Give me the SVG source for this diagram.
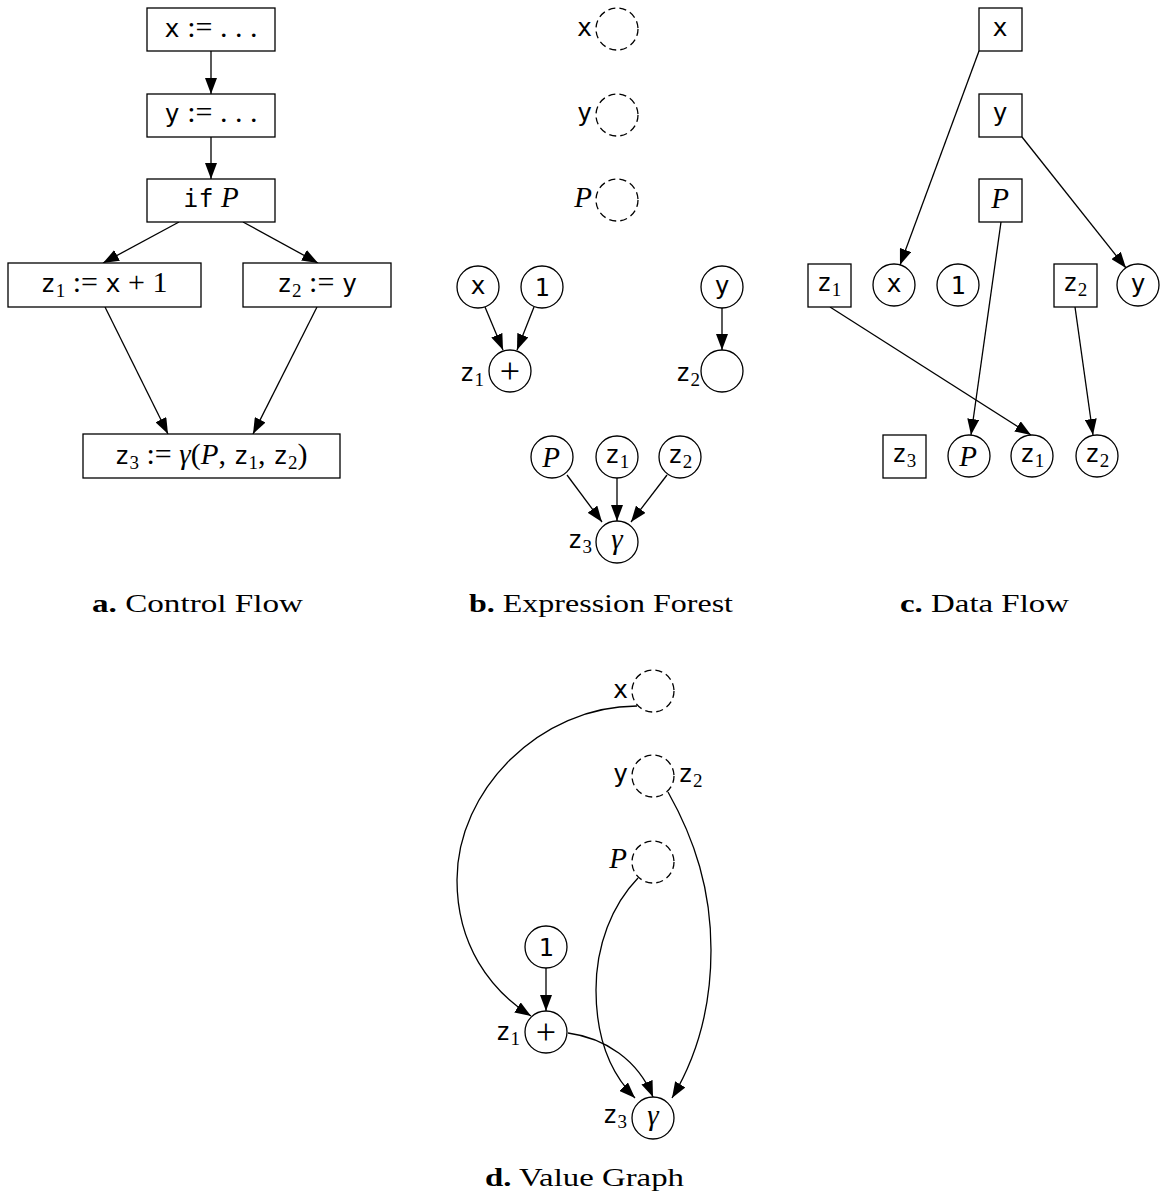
<svg xmlns="http://www.w3.org/2000/svg" width="1162" height="1196" viewBox="0 0 1162 1196">
<style>
.tt{font-family:"DejaVu Sans Mono","Liberation Mono",monospace;font-size:25px}
.rm{font-family:"Liberation Serif",serif;font-size:30px}
.pl{font-family:"Liberation Serif",serif;font-size:36px}
.it{font-family:"Liberation Serif",serif;font-style:italic;font-size:29px}
.sub{font-family:"Liberation Serif",serif;font-size:19px}
.box{fill:#fff;stroke:#000;stroke-width:1.3}
.dash{fill:#fff;stroke:#000;stroke-width:1.3;stroke-dasharray:7 4.2}
.edge{fill:none;stroke:#000;stroke-width:1.3;marker-end:url(#ah)}
.cap{font-family:"Liberation Serif",serif;font-size:26px}
text{fill:#000}
</style>
<defs>
<marker id="ah" viewBox="0 0 16 12" refX="16" refY="6" markerWidth="16" markerHeight="12" orient="auto" markerUnits="userSpaceOnUse"><path d="M0,0 L16,6 L0,12 z" fill="#000"/></marker>
</defs>

<g id="connectors">
<!-- panel a -->
<line class="edge" x1="211" y1="51" x2="211" y2="94"/>
<line class="edge" x1="211" y1="137" x2="211" y2="179"/>
<line class="edge" x1="179" y1="222" x2="103" y2="263"/>
<line class="edge" x1="243" y1="222" x2="318" y2="263"/>
<line class="edge" x1="105" y1="307" x2="168" y2="434"/>
<line class="edge" x1="317" y1="307" x2="253" y2="434"/>
<!-- panel b -->
<line class="edge" x1="485" y1="307" x2="503" y2="350"/>
<line class="edge" x1="534" y1="307" x2="517" y2="350"/>
<line class="edge" x1="722" y1="308" x2="722" y2="350"/>
<line class="edge" x1="567" y1="475" x2="602" y2="522"/>
<line class="edge" x1="617" y1="478" x2="617" y2="521"/>
<line class="edge" x1="667" y1="475" x2="631" y2="522"/>
<!-- panel c -->
<line class="edge" x1="979" y1="51" x2="900" y2="265"/>
<line class="edge" x1="1022" y1="137" x2="1126" y2="268"/>
<line class="edge" x1="1001" y1="222" x2="971" y2="435"/>
<line class="edge" x1="830" y1="307" x2="1031" y2="435"/>
<line class="edge" x1="1075" y1="307" x2="1093" y2="435"/>
<!-- panel d -->
<path class="edge" d="M637,706 C540,706 457,790 457,880 C457,945 490,990 531,1016"/>
<line class="edge" x1="546" y1="968" x2="546" y2="1011"/>
<path class="edge" d="M638,878 C612,905 596,945 596,990 C596,1040 612,1075 635,1098"/>
<path class="edge" d="M668,792 C695,840 711,890 711,950 C711,1010 695,1060 672,1098"/>
<path class="edge" d="M568,1033 C605,1038 638,1060 653,1097"/>
</g>

<!-- Panel a: control flow -->
<g id="a_x">
<rect class="box" x="147" y="8" width="128" height="43"/>
<text x="211" y="37" text-anchor="middle"><tspan class="tt">x</tspan><tspan class="rm"> := . . .</tspan></text>
</g>
<g id="a_y">
<rect class="box" x="147" y="94" width="128" height="43"/>
<text x="211" y="122" text-anchor="middle"><tspan class="tt">y</tspan><tspan class="rm"> := . . .</tspan></text>
</g>
<g id="a_if">
<rect class="box" x="147" y="179" width="128" height="43"/>
<text x="211" y="207" text-anchor="middle"><tspan class="tt">if</tspan><tspan class="rm"> </tspan><tspan class="it">P</tspan></text>
</g>
<g id="a_z1">
<rect class="box" x="8" y="263" width="193" height="44"/>
<text x="104" y="292" text-anchor="middle"><tspan class="tt">z</tspan><tspan class="sub" dy="5">1</tspan><tspan class="rm" dy="-5"> := </tspan><tspan class="tt">x</tspan><tspan class="rm"> + 1</tspan></text>
</g>
<g id="a_z2">
<rect class="box" x="243" y="263" width="148" height="44"/>
<text x="317" y="292" text-anchor="middle"><tspan class="tt">z</tspan><tspan class="sub" dy="5">2</tspan><tspan class="rm" dy="-5"> := </tspan><tspan class="tt">y</tspan></text>
</g>
<g id="a_z3">
<rect class="box" x="83" y="434" width="257" height="44"/>
<text x="211" y="464" text-anchor="middle"><tspan class="tt">z</tspan><tspan class="sub" dy="5">3</tspan><tspan class="rm" dy="-5"> := </tspan><tspan class="it">γ</tspan><tspan class="rm">(</tspan><tspan class="it">P</tspan><tspan class="rm">, </tspan><tspan class="tt">z</tspan><tspan class="sub" dy="5">1</tspan><tspan class="rm" dy="-5">, </tspan><tspan class="tt">z</tspan><tspan class="sub" dy="5">2</tspan><tspan class="rm" dy="-5">)</tspan></text>
</g>

<!-- Panel b: expression forest -->
<g id="b_x">
<circle class="dash" cx="617" cy="29" r="21"/>
<text class="tt" x="592" y="36" text-anchor="end">x</text>
</g>
<g id="b_y">
<circle class="dash" cx="617" cy="115" r="21"/>
<text class="tt" x="592" y="121" text-anchor="end">y</text>
</g>
<g id="b_P">
<circle class="dash" cx="617" cy="200" r="21"/>
<text class="it" x="592" y="207" text-anchor="end">P</text>
</g>
<g id="b_xleaf">
<circle class="box" cx="478" cy="287" r="21"/>
<text class="tt" x="478" y="294" text-anchor="middle">x</text>
</g>
<g id="b_one">
<circle class="box" cx="542" cy="287" r="21"/>
<text class="tt" x="542" y="296" text-anchor="middle">1</text>
</g>
<g id="b_plus">
<circle class="box" cx="510" cy="371" r="21"/>
<text class="pl" x="510" y="383" text-anchor="middle">+</text>
<text x="484" y="381" text-anchor="end"><tspan class="tt">z</tspan><tspan class="sub" dy="5">1</tspan></text>
</g>
<g id="b_yleaf">
<circle class="box" cx="722" cy="287" r="21"/>
<text class="tt" x="722" y="294" text-anchor="middle">y</text>
</g>
<g id="b_z2">
<circle class="box" cx="722" cy="371" r="21"/>
<text x="700" y="381" text-anchor="end"><tspan class="tt">z</tspan><tspan class="sub" dy="5">2</tspan></text>
</g>
<g id="b_Pleaf">
<circle class="box" cx="552" cy="457" r="21"/>
<text class="it" x="551" y="467" text-anchor="middle">P</text>
</g>
<g id="b_z1leaf">
<circle class="box" cx="617" cy="457" r="21"/>
<text x="617" y="463" text-anchor="middle"><tspan class="tt">z</tspan><tspan class="sub" dy="5">1</tspan></text>
</g>
<g id="b_z2leaf">
<circle class="box" cx="680" cy="457" r="21"/>
<text x="680" y="463" text-anchor="middle"><tspan class="tt">z</tspan><tspan class="sub" dy="5">2</tspan></text>
</g>
<g id="b_gamma">
<circle class="box" cx="617" cy="542" r="21"/>
<text class="it" x="617" y="549" text-anchor="middle">γ</text>
<text x="592" y="548" text-anchor="end"><tspan class="tt">z</tspan><tspan class="sub" dy="5">3</tspan></text>
</g>

<!-- Panel c: data flow -->
<g id="c_x">
<rect class="box" x="979" y="8" width="43" height="43"/>
<text class="tt" x="1000" y="36" text-anchor="middle">x</text>
</g>
<g id="c_y">
<rect class="box" x="979" y="94" width="43" height="43"/>
<text class="tt" x="1000" y="121" text-anchor="middle">y</text>
</g>
<g id="c_P">
<rect class="box" x="979" y="179" width="43" height="43"/>
<text class="it" x="1000" y="208" text-anchor="middle">P</text>
</g>
<g id="c_z1box">
<rect class="box" x="808" y="264" width="43" height="43"/>
<text x="829" y="291" text-anchor="middle"><tspan class="tt">z</tspan><tspan class="sub" dy="5">1</tspan></text>
</g>
<g id="c_xc">
<circle class="box" cx="894" cy="285" r="21"/>
<text class="tt" x="894" y="292" text-anchor="middle">x</text>
</g>
<g id="c_one">
<circle class="box" cx="958" cy="285" r="21"/>
<text class="tt" x="958" y="294" text-anchor="middle">1</text>
</g>
<g id="c_z2box">
<rect class="box" x="1054" y="264" width="43" height="43"/>
<text x="1075" y="291" text-anchor="middle"><tspan class="tt">z</tspan><tspan class="sub" dy="5">2</tspan></text>
</g>
<g id="c_yc">
<circle class="box" cx="1138" cy="285" r="21"/>
<text class="tt" x="1138" y="292" text-anchor="middle">y</text>
</g>
<g id="c_z3box">
<rect class="box" x="883" y="435" width="43" height="43"/>
<text x="904" y="462" text-anchor="middle"><tspan class="tt">z</tspan><tspan class="sub" dy="5">3</tspan></text>
</g>
<g id="c_Pc">
<circle class="box" cx="969" cy="456" r="21"/>
<text class="it" x="968" y="466" text-anchor="middle">P</text>
</g>
<g id="c_z1c">
<circle class="box" cx="1032" cy="456" r="21"/>
<text x="1032" y="462" text-anchor="middle"><tspan class="tt">z</tspan><tspan class="sub" dy="5">1</tspan></text>
</g>
<g id="c_z2c">
<circle class="box" cx="1097" cy="456" r="21"/>
<text x="1097" y="462" text-anchor="middle"><tspan class="tt">z</tspan><tspan class="sub" dy="5">2</tspan></text>
</g>

<!-- Panel d: value graph -->
<g id="d_x">
<circle class="dash" cx="653" cy="691" r="21"/>
<text class="tt" x="628" y="698" text-anchor="end">x</text>
</g>
<g id="d_y">
<circle class="dash" cx="653" cy="776" r="21"/>
<text class="tt" x="628" y="782" text-anchor="end">y</text>
<text x="678" y="782"><tspan class="tt">z</tspan><tspan class="sub" dy="5">2</tspan></text>
</g>
<g id="d_P">
<circle class="dash" cx="653" cy="862" r="21"/>
<text class="it" x="627" y="868" text-anchor="end">P</text>
</g>
<g id="d_one">
<circle class="box" cx="546" cy="947" r="21"/>
<text class="tt" x="546" y="956" text-anchor="middle">1</text>
</g>
<g id="d_plus">
<circle class="box" cx="546" cy="1032" r="21"/>
<text class="pl" x="546" y="1044" text-anchor="middle">+</text>
<text x="520" y="1040" text-anchor="end"><tspan class="tt">z</tspan><tspan class="sub" dy="5">1</tspan></text>
</g>
<g id="d_gamma">
<circle class="box" cx="653" cy="1118" r="21"/>
<text class="it" x="653" y="1125" text-anchor="middle">γ</text>
<text x="627" y="1123" text-anchor="end"><tspan class="tt">z</tspan><tspan class="sub" dy="5">3</tspan></text>
</g>

<!-- captions -->
<g id="captions">
<text class="cap" x="92" y="612" textLength="211" lengthAdjust="spacingAndGlyphs"><tspan font-weight="bold">a.</tspan> Control Flow</text>
<text class="cap" x="469" y="612" textLength="264" lengthAdjust="spacingAndGlyphs"><tspan font-weight="bold">b.</tspan> Expression Forest</text>
<text class="cap" x="900" y="612" textLength="169" lengthAdjust="spacingAndGlyphs"><tspan font-weight="bold">c.</tspan> Data Flow</text>
<text class="cap" x="485" y="1186" textLength="199" lengthAdjust="spacingAndGlyphs"><tspan font-weight="bold">d.</tspan> Value Graph</text>
</g>
</svg>
